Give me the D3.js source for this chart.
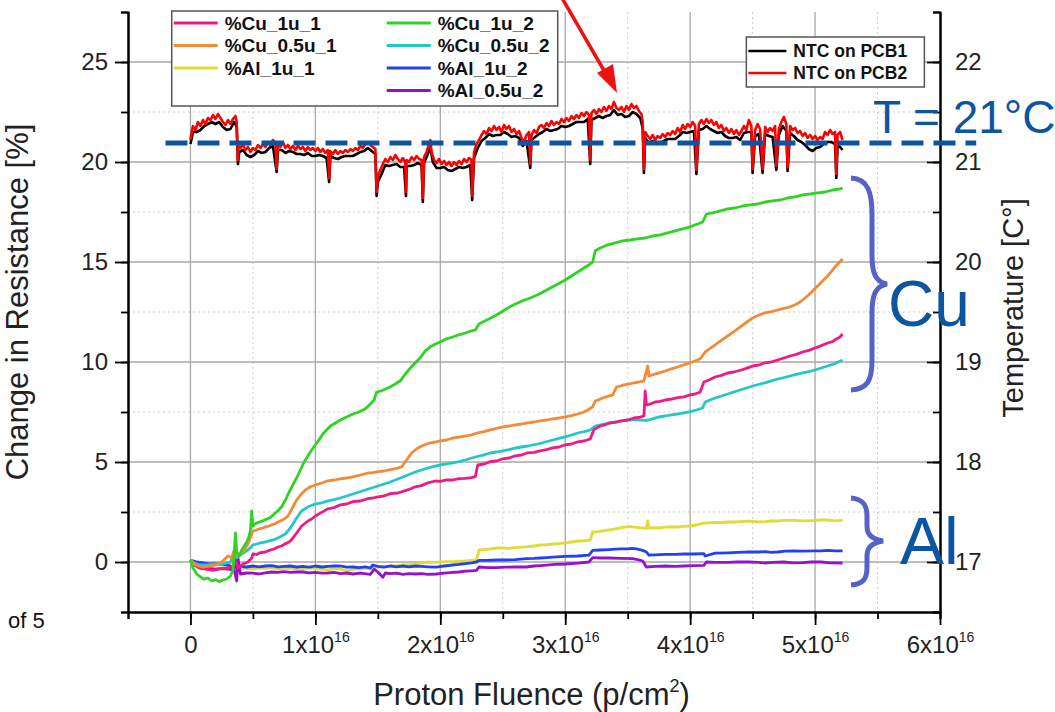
<!DOCTYPE html>
<html>
<head>
<meta charset="utf-8">
<script src="https://cdn.jsdelivr.net/npm/d3@7"></script>
<style>
  body { margin: 0; background: #fff; }
  svg { display: block; }
  text { font-family: "Liberation Sans", Arial, sans-serif; }
</style>
</head>
<body>
<div id="chart"></div>
<script>
// fluence values are in units of 1e16 p/cm^2
const xTicks = [0, 1, 2, 3, 4, 5, 6];
const yTicks = [0, 5, 10, 15, 20, 25];
const tTicks = [17, 18, 19, 20, 21, 22];

const seriesNames = ["%Cu_1u_1", "%Cu_0.5u_1", "%Al_1u_1", "%Cu_1u_2", "%Cu_0.5u_2", "%Al_1u_2", "%Al_0.5u_2"];
const seriesColors = ["#ee1a85", "#f58a35", "#dedc35", "#2ed423", "#22c8c8", "#2340f2", "#9412cc"];
const ntcNames = ["NTC on PCB1", "NTC on PCB2"];
const ntcColors = ["#000000", "#ff0000"];

const cu1u1 = [[0,0.1],[0.03,-0.15],[0.07,-0.3],[0.12,-0.35],[0.18,-0.42],[0.24,-0.33],[0.3,-0.3],[0.34,-0.2],[0.36,0.1],[0.38,-0.3],[0.42,-0.1],[0.46,0.0],[0.49,0.2],[0.5,0.4],[0.53,0.38],[0.56,0.47],[0.6,0.5],[0.63,0.58],[0.67,0.65],[0.7,0.75],[0.73,0.8],[0.76,0.92],[0.79,1.0],[0.81,1.12],[0.85,1.45],[0.89,1.8],[0.94,2.05],[0.97,2.15],[1.0,2.3],[1.05,2.48],[1.1,2.66],[1.15,2.72],[1.2,2.86],[1.25,2.9],[1.3,3.02],[1.36,3.05],[1.42,3.17],[1.46,3.2],[1.5,3.26],[1.55,3.3],[1.6,3.42],[1.66,3.45],[1.72,3.57],[1.76,3.65],[1.8,3.76],[1.85,3.82],[1.9,3.96],[1.96,4.05],[2.0,4.03],[2.05,4.11],[2.1,4.1],[2.15,4.17],[2.2,4.18],[2.25,4.22],[2.28,4.27],[2.3,4.85],[2.35,4.9],[2.4,5.02],[2.45,5.05],[2.5,5.16],[2.55,5.2],[2.6,5.31],[2.65,5.35],[2.7,5.46],[2.75,5.48],[2.8,5.56],[2.85,5.62],[2.9,5.71],[2.95,5.75],[3.0,5.86],[3.05,5.9],[3.1,6.01],[3.15,6.05],[3.2,6.15],[3.23,6.62],[3.28,6.8],[3.32,6.86],[3.36,6.96],[3.4,6.98],[3.45,7.06],[3.5,7.1],[3.55,7.2],[3.6,7.24],[3.63,7.3],[3.64,8.55],[3.65,7.85],[3.68,7.9],[3.72,8.0],[3.76,8.03],[3.8,8.1],[3.85,8.14],[3.9,8.22],[3.95,8.26],[4.0,8.36],[4.04,8.4],[4.08,8.5],[4.11,9.0],[4.15,9.1],[4.2,9.25],[4.25,9.33],[4.3,9.45],[4.35,9.5],[4.41,9.6],[4.45,9.68],[4.5,9.8],[4.55,9.85],[4.6,9.96],[4.65,10.0],[4.7,10.1],[4.75,10.2],[4.8,10.3],[4.85,10.38],[4.9,10.5],[4.95,10.58],[5.0,10.7],[5.05,10.82],[5.1,10.95],[5.14,11.02],[5.17,11.15],[5.2,11.25],[5.22,11.4]];

const cu05u1 = [[0,0.1],[0.03,-0.1],[0.06,-0.2],[0.1,-0.25],[0.15,-0.2],[0.2,-0.15],[0.25,0.0],[0.3,0.3],[0.33,0.2],[0.36,0.8],[0.38,0.3],[0.42,0.5],[0.46,0.9],[0.49,1.4],[0.5,1.55],[0.53,1.6],[0.55,1.66],[0.58,1.7],[0.6,1.76],[0.63,1.8],[0.65,1.86],[0.68,1.92],[0.7,2.0],[0.73,2.08],[0.75,2.15],[0.78,2.3],[0.8,2.5],[0.84,3.0],[0.88,3.35],[0.92,3.6],[0.96,3.76],[1.0,3.85],[1.05,3.95],[1.1,4.06],[1.15,4.1],[1.2,4.16],[1.25,4.2],[1.3,4.26],[1.36,4.35],[1.42,4.45],[1.46,4.47],[1.5,4.52],[1.55,4.55],[1.6,4.62],[1.65,4.68],[1.69,4.76],[1.73,5.1],[1.77,5.45],[1.82,5.7],[1.87,5.85],[1.92,5.96],[1.96,6.0],[2.0,6.06],[2.05,6.1],[2.1,6.2],[2.15,6.24],[2.2,6.3],[2.25,6.36],[2.3,6.46],[2.35,6.52],[2.4,6.61],[2.45,6.68],[2.5,6.76],[2.55,6.8],[2.6,6.86],[2.65,6.9],[2.7,6.96],[2.75,7.0],[2.8,7.06],[2.85,7.1],[2.9,7.16],[2.95,7.2],[3.0,7.26],[3.05,7.32],[3.1,7.4],[3.15,7.5],[3.18,7.6],[3.22,7.76],[3.24,8.05],[3.27,8.12],[3.3,8.2],[3.34,8.28],[3.38,8.36],[3.41,8.75],[3.44,8.8],[3.47,8.86],[3.51,8.9],[3.55,8.96],[3.59,9.0],[3.63,9.06],[3.66,9.8],[3.67,9.3],[3.71,9.38],[3.75,9.46],[3.8,9.55],[3.85,9.66],[3.9,9.75],[3.95,9.86],[4.0,9.96],[4.04,10.05],[4.08,10.16],[4.12,10.5],[4.16,10.68],[4.2,10.86],[4.25,11.08],[4.3,11.3],[4.35,11.52],[4.4,11.75],[4.45,11.98],[4.5,12.2],[4.55,12.35],[4.6,12.46],[4.65,12.52],[4.7,12.6],[4.75,12.68],[4.8,12.76],[4.84,12.86],[4.87,12.96],[4.91,13.15],[4.95,13.36],[4.98,13.55],[5.02,13.8],[5.06,14.05],[5.1,14.3],[5.13,14.52],[5.16,14.76],[5.19,14.95],[5.22,15.15]];

const al1u1 = [[0,0.1],[0.05,-0.2],[0.1,-0.3],[0.15,-0.28],[0.2,-0.36],[0.25,-0.3],[0.3,-0.32],[0.35,0.3],[0.37,-0.5],[0.4,-0.35],[0.45,-0.32],[0.5,-0.36],[0.55,-0.3],[0.6,-0.32],[0.65,-0.28],[0.7,-0.36],[0.75,-0.32],[0.8,-0.3],[0.85,-0.34],[0.9,-0.36],[0.95,-0.3],[1.0,-0.32],[1.05,-0.36],[1.1,-0.4],[1.15,-0.33],[1.2,-0.36],[1.26,-0.44],[1.3,-0.36],[1.35,-0.36],[1.4,-0.3],[1.44,-0.34],[1.5,-0.25],[1.55,-0.24],[1.6,-0.2],[1.65,-0.18],[1.7,-0.14],[1.75,-0.13],[1.8,-0.1],[1.85,-0.04],[1.9,0.0],[1.95,-0.02],[2.0,0.0],[2.05,0.02],[2.1,0.02],[2.15,0.04],[2.2,0.05],[2.25,0.08],[2.29,0.1],[2.31,0.6],[2.35,0.62],[2.4,0.65],[2.45,0.7],[2.5,0.7],[2.55,0.68],[2.6,0.72],[2.65,0.74],[2.69,0.76],[2.75,0.8],[2.8,0.85],[2.85,0.86],[2.9,0.9],[2.95,0.92],[3.0,0.96],[3.05,1.0],[3.1,1.05],[3.15,1.06],[3.2,1.1],[3.22,1.5],[3.26,1.52],[3.3,1.56],[3.35,1.6],[3.4,1.66],[3.45,1.72],[3.51,1.78],[3.55,1.74],[3.6,1.72],[3.65,1.68],[3.66,2.05],[3.67,1.7],[3.71,1.72],[3.75,1.7],[3.8,1.74],[3.85,1.76],[3.9,1.75],[3.94,1.78],[4.0,1.8],[4.05,1.85],[4.11,1.95],[4.15,1.96],[4.2,1.98],[4.25,1.97],[4.3,2.0],[4.35,2.0],[4.4,2.02],[4.47,2.04],[4.55,2.0],[4.6,2.02],[4.65,2.05],[4.7,2.05],[4.75,2.08],[4.83,2.08],[4.9,2.06],[4.95,2.06],[5.0,2.08],[5.05,2.1],[5.1,2.1],[5.15,2.06],[5.22,2.08]];

const cu1u2 = [[0,0.1],[0.02,-0.3],[0.05,-0.6],[0.08,-0.75],[0.11,-0.86],[0.14,-0.8],[0.17,-0.95],[0.2,-0.88],[0.23,-0.98],[0.26,-0.9],[0.29,-0.85],[0.32,-0.7],[0.34,-0.4],[0.35,0.4],[0.36,1.45],[0.37,0.5],[0.39,0.3],[0.41,0.6],[0.43,0.8],[0.45,1.0],[0.47,1.3],[0.48,1.6],[0.49,2.55],[0.5,1.8],[0.52,1.92],[0.55,2.0],[0.58,2.06],[0.61,2.15],[0.64,2.22],[0.67,2.4],[0.7,2.56],[0.73,2.76],[0.76,3.1],[0.79,3.5],[0.82,3.86],[0.85,4.2],[0.88,4.6],[0.91,5.0],[0.94,5.3],[0.97,5.6],[1.0,5.86],[1.03,6.12],[1.06,6.4],[1.09,6.6],[1.12,6.8],[1.16,6.95],[1.2,7.1],[1.25,7.25],[1.3,7.4],[1.35,7.5],[1.4,7.66],[1.44,7.9],[1.47,8.1],[1.49,8.5],[1.53,8.56],[1.58,8.7],[1.63,8.86],[1.68,9.06],[1.72,9.4],[1.76,9.7],[1.8,9.96],[1.84,10.22],[1.88,10.56],[1.92,10.76],[1.96,10.9],[2.0,11.0],[2.05,11.16],[2.1,11.25],[2.15,11.36],[2.2,11.45],[2.25,11.56],[2.28,11.6],[2.31,11.9],[2.36,12.06],[2.42,12.25],[2.48,12.46],[2.54,12.7],[2.6,12.9],[2.66,13.06],[2.72,13.2],[2.78,13.36],[2.84,13.56],[2.9,13.76],[2.96,13.96],[3.0,14.1],[3.05,14.3],[3.1,14.5],[3.15,14.7],[3.2,14.9],[3.22,15.0],[3.24,15.56],[3.28,15.7],[3.34,15.86],[3.4,15.96],[3.46,16.06],[3.52,16.1],[3.58,16.16],[3.64,16.2],[3.7,16.3],[3.76,16.36],[3.82,16.46],[3.88,16.56],[3.94,16.66],[4.0,16.76],[4.06,16.9],[4.1,17.0],[4.13,17.4],[4.18,17.46],[4.24,17.56],[4.3,17.66],[4.36,17.7],[4.42,17.8],[4.48,17.86],[4.54,17.9],[4.6,18.0],[4.66,18.06],[4.72,18.1],[4.78,18.2],[4.84,18.26],[4.9,18.36],[4.96,18.4],[5.02,18.46],[5.08,18.5],[5.14,18.6],[5.2,18.66],[5.22,18.7]];

const cu05u2 = [[0,0.1],[0.03,-0.05],[0.08,-0.15],[0.14,-0.15],[0.2,-0.1],[0.26,-0.1],[0.32,0.0],[0.35,0.5],[0.37,0.2],[0.41,0.4],[0.46,0.6],[0.5,0.85],[0.53,0.9],[0.56,0.96],[0.6,1.0],[0.63,1.06],[0.67,1.12],[0.7,1.2],[0.73,1.3],[0.76,1.4],[0.8,1.7],[0.85,2.2],[0.89,2.55],[0.94,2.76],[1.0,2.9],[1.05,2.96],[1.1,3.06],[1.15,3.12],[1.2,3.2],[1.25,3.3],[1.3,3.4],[1.35,3.5],[1.4,3.6],[1.45,3.7],[1.5,3.8],[1.55,3.9],[1.6,4.0],[1.66,4.15],[1.72,4.3],[1.76,4.4],[1.8,4.5],[1.85,4.6],[1.9,4.7],[1.95,4.78],[2.0,4.86],[2.05,4.9],[2.1,4.96],[2.15,5.02],[2.2,5.1],[2.25,5.2],[2.31,5.3],[2.35,5.36],[2.4,5.45],[2.45,5.5],[2.5,5.56],[2.55,5.62],[2.6,5.7],[2.65,5.75],[2.7,5.8],[2.74,5.85],[2.78,5.9],[2.84,6.0],[2.9,6.1],[2.95,6.18],[3.0,6.26],[3.05,6.35],[3.1,6.45],[3.15,6.52],[3.2,6.6],[3.24,6.8],[3.3,6.88],[3.35,6.95],[3.4,7.0],[3.45,7.06],[3.52,7.1],[3.56,7.12],[3.6,7.1],[3.64,7.08],[3.67,7.1],[3.71,7.18],[3.75,7.25],[3.8,7.3],[3.85,7.36],[3.9,7.4],[3.95,7.46],[4.0,7.52],[4.05,7.6],[4.1,7.7],[4.12,8.0],[4.16,8.1],[4.2,8.2],[4.25,8.3],[4.3,8.4],[4.35,8.5],[4.4,8.6],[4.45,8.7],[4.5,8.8],[4.56,8.9],[4.6,8.96],[4.65,9.06],[4.7,9.15],[4.75,9.22],[4.8,9.3],[4.85,9.38],[4.9,9.46],[4.95,9.52],[5.0,9.6],[5.05,9.7],[5.1,9.8],[5.15,9.9],[5.22,10.1]];

const al1u2 = [[0,0.1],[0.05,0.0],[0.1,-0.05],[0.15,-0.1],[0.2,-0.08],[0.25,-0.12],[0.3,-0.15],[0.35,-0.3],[0.37,-0.15],[0.41,-0.22],[0.45,-0.25],[0.5,-0.2],[0.55,-0.24],[0.6,-0.2],[0.65,-0.18],[0.7,-0.24],[0.75,-0.22],[0.8,-0.2],[0.85,-0.25],[0.9,-0.22],[0.95,-0.26],[1.0,-0.2],[1.05,-0.25],[1.1,-0.22],[1.15,-0.2],[1.2,-0.2],[1.25,-0.26],[1.3,-0.25],[1.35,-0.28],[1.4,-0.24],[1.44,-0.3],[1.46,-0.15],[1.5,-0.22],[1.55,-0.26],[1.6,-0.2],[1.65,-0.24],[1.7,-0.2],[1.75,-0.24],[1.8,-0.2],[1.85,-0.22],[1.9,-0.24],[1.97,-0.26],[2.03,-0.2],[2.1,-0.15],[2.15,-0.12],[2.2,-0.08],[2.25,-0.04],[2.29,0.0],[2.31,0.08],[2.38,0.08],[2.45,0.1],[2.52,0.1],[2.6,0.12],[2.69,0.17],[2.75,0.18],[2.8,0.2],[2.85,0.22],[2.9,0.24],[3.0,0.28],[3.1,0.3],[3.19,0.34],[3.22,0.58],[3.28,0.6],[3.35,0.62],[3.4,0.64],[3.45,0.66],[3.5,0.66],[3.54,0.68],[3.58,0.64],[3.62,0.58],[3.65,0.5],[3.67,0.34],[3.72,0.36],[3.8,0.38],[3.88,0.38],[3.95,0.4],[4.03,0.4],[4.11,0.42],[4.12,0.3],[4.2,0.44],[4.3,0.46],[4.38,0.48],[4.47,0.5],[4.55,0.5],[4.6,0.52],[4.65,0.48],[4.7,0.5],[4.76,0.54],[4.83,0.56],[4.9,0.54],[5.0,0.56],[5.05,0.56],[5.1,0.58],[5.16,0.56],[5.22,0.56]];

const al05u2 = [[0,0.1],[0.04,-0.15],[0.1,-0.3],[0.15,-0.33],[0.2,-0.36],[0.25,-0.33],[0.3,-0.36],[0.35,-0.4],[0.37,-0.95],[0.38,0.2],[0.4,-0.6],[0.45,-0.55],[0.5,-0.56],[0.55,-0.6],[0.6,-0.54],[0.65,-0.5],[0.7,-0.52],[0.75,-0.48],[0.8,-0.52],[0.85,-0.5],[0.9,-0.5],[0.95,-0.54],[1.0,-0.52],[1.05,-0.56],[1.1,-0.55],[1.15,-0.52],[1.2,-0.58],[1.25,-0.55],[1.3,-0.6],[1.36,-0.56],[1.44,-0.62],[1.47,-0.36],[1.5,-0.5],[1.54,-0.76],[1.56,-0.55],[1.6,-0.58],[1.65,-0.56],[1.7,-0.62],[1.75,-0.58],[1.8,-0.6],[1.85,-0.58],[1.9,-0.62],[1.97,-0.6],[2.03,-0.56],[2.1,-0.52],[2.15,-0.5],[2.2,-0.46],[2.25,-0.44],[2.29,-0.42],[2.31,-0.25],[2.38,-0.28],[2.45,-0.28],[2.52,-0.26],[2.6,-0.25],[2.69,-0.25],[2.75,-0.2],[2.8,-0.18],[2.85,-0.16],[2.92,-0.12],[3.0,-0.1],[3.1,-0.06],[3.19,0.0],[3.22,0.22],[3.28,0.2],[3.35,0.2],[3.45,0.18],[3.54,0.17],[3.58,0.12],[3.62,0.05],[3.65,-0.25],[3.72,-0.22],[3.8,-0.2],[3.88,-0.22],[3.95,-0.2],[4.03,-0.18],[4.11,-0.17],[4.13,0.0],[4.2,-0.02],[4.3,-0.02],[4.38,0.0],[4.47,0.0],[4.55,-0.02],[4.6,-0.05],[4.66,-0.02],[4.75,0.0],[4.82,-0.04],[4.9,-0.03],[4.97,0.0],[5.05,0.0],[5.12,-0.04],[5.22,-0.05]];

// temperature on the right axis, degrees C
const ntcPcb2 = [[0,21.22],[0.01,21.30],[0.02,21.36],[0.04,21.32],[0.06,21.40],[0.08,21.36],[0.10,21.42],[0.12,21.38],[0.14,21.44],[0.16,21.42],[0.18,21.47],[0.20,21.43],[0.22,21.48],[0.24,21.44],[0.26,21.40],[0.28,21.37],[0.30,21.42],[0.32,21.38],[0.34,21.43],[0.36,21.46],[0.37,21.40],[0.38,21.02],[0.385,21.16],[0.40,21.14],[0.42,21.18],[0.44,21.12],[0.46,21.15],[0.48,21.10],[0.50,21.14],[0.52,21.12],[0.54,21.17],[0.56,21.14],[0.58,21.18],[0.60,21.15],[0.62,21.20],[0.64,21.17],[0.66,21.22],[0.68,21.19],[0.69,20.93],[0.70,21.18],[0.72,21.15],[0.74,21.20],[0.76,21.14],[0.78,21.17],[0.80,21.13],[0.82,21.16],[0.84,21.12],[0.86,21.16],[0.88,21.13],[0.90,21.15],[0.92,21.11],[0.94,21.15],[0.96,21.12],[0.98,21.14],[1.00,21.11],[1.02,21.14],[1.04,21.10],[1.06,21.13],[1.08,21.09],[1.10,21.12],[1.11,20.84],[1.12,21.11],[1.14,21.08],[1.16,21.12],[1.18,21.08],[1.20,21.11],[1.22,21.09],[1.24,21.12],[1.26,21.10],[1.28,21.13],[1.30,21.11],[1.32,21.14],[1.34,21.12],[1.36,21.16],[1.38,21.14],[1.40,21.18],[1.42,21.20],[1.44,21.17],[1.46,21.15],[1.48,21.13],[1.49,20.70],[1.50,20.86],[1.52,20.92],[1.54,20.98],[1.56,21.03],[1.58,21.00],[1.60,21.05],[1.62,21.02],[1.64,21.07],[1.66,21.03],[1.68,21.00],[1.70,21.04],[1.72,20.99],[1.725,20.70],[1.73,21.02],[1.75,21.00],[1.77,21.05],[1.79,21.02],[1.81,21.06],[1.83,21.03],[1.85,21.02],[1.86,20.64],[1.87,21.05],[1.89,21.10],[1.91,21.18],[1.92,21.22],[1.93,21.10],[1.95,21.02],[1.97,20.99],[1.99,21.03],[2.01,20.98],[2.03,21.01],[2.05,20.97],[2.07,21.00],[2.09,20.96],[2.11,21.00],[2.13,20.97],[2.15,21.01],[2.17,20.98],[2.19,21.03],[2.21,21.00],[2.23,21.04],[2.25,21.02],[2.255,20.66],[2.27,21.10],[2.29,21.18],[2.31,21.22],[2.33,21.27],[2.35,21.31],[2.37,21.28],[2.39,21.34],[2.41,21.31],[2.43,21.36],[2.45,21.32],[2.47,21.35],[2.49,21.30],[2.51,21.37],[2.53,21.33],[2.55,21.36],[2.57,21.30],[2.59,21.33],[2.61,21.28],[2.63,21.31],[2.65,21.24],[2.67,21.20],[2.69,21.27],[2.71,21.30],[2.72,20.98],[2.73,21.27],[2.75,21.32],[2.77,21.29],[2.79,21.35],[2.81,21.37],[2.83,21.34],[2.85,21.39],[2.87,21.36],[2.89,21.41],[2.91,21.37],[2.93,21.40],[2.95,21.38],[2.97,21.43],[2.99,21.40],[3.01,21.44],[3.03,21.41],[3.05,21.46],[3.07,21.43],[3.09,21.47],[3.11,21.44],[3.13,21.49],[3.15,21.46],[3.17,21.50],[3.19,21.47],[3.20,21.02],[3.21,21.49],[3.23,21.52],[3.25,21.48],[3.27,21.53],[3.29,21.50],[3.31,21.55],[3.33,21.51],[3.35,21.56],[3.37,21.53],[3.39,21.60],[3.41,21.54],[3.43,21.52],[3.45,21.55],[3.47,21.50],[3.49,21.56],[3.51,21.52],[3.53,21.58],[3.55,21.54],[3.57,21.56],[3.59,21.51],[3.61,21.48],[3.62,21.40],[3.63,20.93],[3.64,21.30],[3.66,21.26],[3.68,21.23],[3.70,21.27],[3.72,21.22],[3.74,21.26],[3.76,21.24],[3.78,21.28],[3.80,21.25],[3.82,21.29],[3.84,21.27],[3.86,21.31],[3.88,21.28],[3.90,21.34],[3.92,21.30],[3.94,21.37],[3.96,21.33],[3.98,21.38],[4.00,21.35],[4.02,21.40],[4.04,21.36],[4.05,20.92],[4.07,21.38],[4.09,21.42],[4.11,21.38],[4.13,21.43],[4.15,21.39],[4.17,21.42],[4.19,21.37],[4.21,21.40],[4.23,21.34],[4.25,21.37],[4.27,21.31],[4.29,21.34],[4.31,21.29],[4.33,21.33],[4.35,21.28],[4.37,21.32],[4.39,21.27],[4.41,21.31],[4.43,21.36],[4.45,21.32],[4.47,21.42],[4.49,21.36],[4.50,20.93],[4.52,21.32],[4.54,21.38],[4.56,21.33],[4.58,20.93],[4.60,21.35],[4.62,21.30],[4.64,21.34],[4.66,21.31],[4.68,21.36],[4.69,20.96],[4.71,21.33],[4.73,21.40],[4.75,21.45],[4.77,21.38],[4.78,20.95],[4.80,21.36],[4.82,21.32],[4.84,21.34],[4.86,21.29],[4.88,21.31],[4.90,21.26],[4.92,21.29],[4.94,21.24],[4.96,21.27],[4.98,21.23],[5.00,21.26],[5.02,21.22],[5.04,21.25],[5.06,21.23],[5.08,21.30],[5.10,21.27],[5.12,21.32],[5.14,21.28],[5.16,21.30],[5.17,20.88],[5.18,21.27],[5.20,21.30],[5.22,21.22]];

const ntcPcb1 = [[0,21.18],[0.02,21.30],[0.05,21.30],[0.08,21.32],[0.11,21.36],[0.14,21.38],[0.17,21.40],[0.2,21.38],[0.23,21.40],[0.26,21.35],[0.29,21.32],[0.32,21.33],[0.35,21.40],[0.37,21.35],[0.38,20.98],[0.39,21.10],[0.42,21.12],[0.45,21.07],[0.48,21.05],[0.51,21.07],[0.54,21.11],[0.57,21.09],[0.60,21.10],[0.63,21.14],[0.66,21.16],[0.69,20.90],[0.70,21.12],[0.73,21.12],[0.76,21.09],[0.79,21.11],[0.82,21.10],[0.85,21.08],[0.88,21.08],[0.91,21.07],[0.94,21.09],[0.97,21.06],[1.0,21.06],[1.03,21.07],[1.06,21.06],[1.09,21.04],[1.11,20.80],[1.12,21.06],[1.15,21.04],[1.18,21.03],[1.21,21.05],[1.24,21.06],[1.27,21.06],[1.3,21.06],[1.33,21.08],[1.36,21.10],[1.39,21.11],[1.42,21.14],[1.45,21.11],[1.48,21.08],[1.49,20.66],[1.5,20.80],[1.53,20.88],[1.56,20.97],[1.59,20.96],[1.62,20.97],[1.65,20.98],[1.68,20.95],[1.71,20.95],[1.725,20.66],[1.73,20.96],[1.76,20.96],[1.79,20.97],[1.82,20.99],[1.85,20.97],[1.86,20.60],[1.87,20.99],[1.9,21.08],[1.92,21.15],[1.94,21.00],[1.97,20.94],[2.0,20.94],[2.03,20.95],[2.06,20.92],[2.09,20.91],[2.12,20.93],[2.15,20.95],[2.18,20.94],[2.21,20.95],[2.24,20.97],[2.255,20.62],[2.27,21.04],[2.3,21.14],[2.33,21.21],[2.36,21.24],[2.39,21.28],[2.42,21.26],[2.45,21.27],[2.48,21.27],[2.51,21.30],[2.54,21.28],[2.57,21.25],[2.6,21.26],[2.63,21.24],[2.66,21.16],[2.69,21.21],[2.72,20.94],[2.73,21.22],[2.76,21.25],[2.79,21.28],[2.82,21.30],[2.85,21.33],[2.88,21.31],[2.91,21.32],[2.94,21.33],[2.97,21.36],[3.0,21.35],[3.03,21.36],[3.06,21.38],[3.09,21.40],[3.12,21.40],[3.15,21.40],[3.18,21.43],[3.2,20.98],[3.21,21.42],[3.24,21.44],[3.27,21.46],[3.3,21.44],[3.33,21.46],[3.36,21.47],[3.39,21.52],[3.42,21.47],[3.45,21.48],[3.48,21.45],[3.51,21.46],[3.54,21.50],[3.57,21.48],[3.6,21.44],[3.62,21.34],[3.63,20.89],[3.64,21.24],[3.67,21.19],[3.7,21.21],[3.73,21.18],[3.76,21.19],[3.79,21.21],[3.82,21.23],[3.85,21.23],[3.88,21.23],[3.91,21.26],[3.94,21.30],[3.97,21.29],[4.0,21.30],[4.03,21.31],[4.05,20.88],[4.07,21.32],[4.1,21.33],[4.13,21.36],[4.16,21.33],[4.19,21.31],[4.22,21.29],[4.25,21.30],[4.28,21.26],[4.31,21.24],[4.34,21.24],[4.37,21.25],[4.4,21.22],[4.43,21.29],[4.46,21.30],[4.49,21.30],[4.5,20.89],[4.52,21.26],[4.55,21.28],[4.58,20.89],[4.6,21.28],[4.63,21.26],[4.66,21.25],[4.69,20.92],[4.71,21.27],[4.74,21.36],[4.77,21.31],[4.78,20.91],[4.8,21.29],[4.83,21.26],[4.86,21.22],[4.89,21.20],[4.92,21.17],[4.95,21.13],[4.98,21.11],[5.01,21.14],[5.04,21.15],[5.07,21.18],[5.1,21.20],[5.13,21.20],[5.16,21.18],[5.17,20.84],[5.18,21.16],[5.2,21.15],[5.22,21.12]];

// order matches seriesNames
const seriesData = [cu1u1, cu05u1, al1u1, cu1u2, cu05u2, al1u2, al05u2];
const drawOrder = [2, 5, 6, 4, 0, 1, 3];

const W = 1055, H = 712;
const margin = {top: 12, right: 115, bottom: 100, left: 128};
const width = W - margin.left - margin.right;
const height = H - margin.top - margin.bottom;

const svgRoot = d3.select("#chart").append("svg")
  .attr("width", W).attr("height", H);
const svg = svgRoot.append("g")
  .attr("transform", `translate(${margin.left},${margin.top})`);

const x = d3.scaleLinear().domain([-0.5, 6]).range([0, width]);
const y = d3.scaleLinear().domain([-2.5, 27.5]).range([height, 0]);
const yT = d3.scaleLinear().domain([16.5, 22.5]).range([height, 0]);

// grid
const xMinor = d3.range(0.5, 6, 1);
const yMinor = d3.range(2.5, 27.5, 5);
const grid = svg.append("g");
grid.selectAll(".vmin").data(xMinor).join("line")
  .attr("x1", d => x(d)).attr("x2", d => x(d)).attr("y1", 0).attr("y2", height)
  .attr("stroke", "#cfcfcf").attr("stroke-width", 1).attr("stroke-dasharray", "2,3");
grid.selectAll(".hmin").data(yMinor).join("line")
  .attr("x1", 0).attr("x2", width).attr("y1", d => y(d)).attr("y2", d => y(d))
  .attr("stroke", "#cfcfcf").attr("stroke-width", 1).attr("stroke-dasharray", "2,3");
grid.selectAll(".vmaj").data(xTicks.slice(0, 6)).join("line")
  .attr("x1", d => x(d)).attr("x2", d => x(d)).attr("y1", 0).attr("y2", height)
  .attr("stroke", "#a9a9a9").attr("stroke-width", 1.3);
grid.selectAll(".hmaj").data(yTicks).join("line")
  .attr("x1", 0).attr("x2", width).attr("y1", d => y(d)).attr("y2", d => y(d))
  .attr("stroke", "#a9a9a9").attr("stroke-width", 1.3);

// resistance lines
const line = d3.line().x(d => x(d[0])).y(d => y(d[1]));
svg.append("g").selectAll("path")
  .data(drawOrder)
  .join("path")
    .attr("d", i => line(seriesData[i]))
    .attr("fill", "none")
    .attr("stroke", i => seriesColors[i])
    .attr("stroke-width", 2.8)
    .attr("stroke-linejoin", "round");

// temperature lines
const lineT = d3.line().x(d => x(d[0])).y(d => yT(d[1]));
svg.append("g").selectAll("path")
  .data([ntcPcb1, ntcPcb2])
  .join("path")
    .attr("d", d => lineT(d))
    .attr("fill", "none")
    .attr("stroke", (d, i) => ntcColors[i])
    .attr("stroke-width", 2.6)
    .attr("stroke-linejoin", "round");

// axes
function styleAxis(g) {
  g.select(".domain").attr("stroke", "#000").attr("stroke-width", 2);
  g.selectAll(".tick line").attr("stroke", "#000").attr("stroke-width", 1.8);
  g.selectAll(".tick text").attr("fill", "#222");
}

const leftMinor = svg.append("g")
  .call(d3.axisLeft(y).tickValues(d3.range(-2.5, 28, 2.5)).tickSize(7).tickFormat(""));
styleAxis(leftMinor);
const leftAxis = svg.append("g")
  .call(d3.axisLeft(y).tickValues(yTicks).tickSize(13).tickPadding(7).tickSizeOuter(0));
styleAxis(leftAxis);
leftAxis.selectAll(".tick text").attr("font-size", 24);

const bottomMinor = svg.append("g")
  .attr("transform", `translate(0,${height})`)
  .call(d3.axisBottom(x).tickValues(d3.range(-0.5, 6.1, 0.5)).tickSize(7).tickFormat(""));
styleAxis(bottomMinor);
const bottomAxis = svg.append("g")
  .attr("transform", `translate(0,${height})`)
  .call(d3.axisBottom(x).tickValues(xTicks).tickSize(13).tickPadding(11).tickSizeOuter(0));
styleAxis(bottomAxis);
bottomAxis.selectAll(".tick text").each(function(d) {
  const t = d3.select(this).attr("font-size", 24).text(null);
  if (d === 0) { t.text("0"); return; }
  t.append("tspan").text(d + "x10");
  t.append("tspan").attr("dy", -11).attr("font-size", 14).text("16");
});

const rightMinor = svg.append("g")
  .attr("transform", `translate(${width},0)`)
  .call(d3.axisRight(yT).tickValues(d3.range(16.5, 22.6, 0.5)).tickSize(-7).tickFormat(""));
styleAxis(rightMinor);
const rightAxis = svg.append("g")
  .attr("transform", `translate(${width},0)`)
  .call(d3.axisRight(yT).tickValues(tTicks).tickSize(-13).tickPadding(15)
    .tickSizeOuter(0).tickFormat(d3.format("d")));
styleAxis(rightAxis);
rightAxis.selectAll(".tick text").attr("font-size", 24);

// axis titles
svg.append("text")
  .attr("transform", `translate(${-100},${height / 2 - 10}) rotate(-90)`)
  .attr("text-anchor", "middle").attr("font-size", 31).attr("fill", "#222")
  .text("Change in Resistance [%]");
svg.append("text")
  .attr("transform", `translate(${width + 83},${height / 2 - 4}) rotate(-90)`)
  .attr("text-anchor", "middle").attr("font-size", 29).attr("fill", "#222")
  .text("Temperature [C°]");
const xt = svg.append("text")
  .attr("x", x(2.73)).attr("y", height + 93)
  .attr("text-anchor", "middle").attr("font-size", 31).attr("fill", "#222");
xt.append("tspan").text("Proton Fluence (p/cm");
xt.append("tspan").attr("dy", -13).attr("font-size", 18).text("2");
xt.append("tspan").attr("dy", 13).text(")");

// legend for resistance series
const leg = svg.append("g").attr("transform", `translate(${x(-0.15)},${-1})`);
leg.append("rect").attr("width", 386).attr("height", 95)
  .attr("fill", "#fff").attr("stroke", "#555").attr("stroke-width", 1.5);
const legItems = seriesNames.map((n, i) => ({name: n, color: seriesColors[i], col: i < 3 ? 0 : 1, row: i < 3 ? i : i - 3}));
const li = leg.selectAll("g.item").data(legItems).join("g")
  .attr("transform", d => `translate(${d.col ? 215 : 2},${12 + d.row * 22.5})`);
li.append("line").attr("x1", 0).attr("x2", 44).attr("stroke", d => d.color).attr("stroke-width", 3);
li.append("text").attr("x", 51).attr("dy", "0.36em").attr("font-size", 19).attr("font-weight", "bold")
  .attr("fill", "#111").text(d => d.name);

// legend for temperature
const leg2 = svg.append("g").attr("transform", `translate(${x(4.45)},${25})`);
leg2.append("rect").attr("width", 178).attr("height", 50)
  .attr("fill", "#fff").attr("stroke", "#555").attr("stroke-width", 1.5);
const li2 = leg2.selectAll("g.item").data(ntcNames).join("g")
  .attr("transform", (d, i) => `translate(2,${14 + i * 22})`);
li2.append("line").attr("x1", 0).attr("x2", 38).attr("stroke", (d, i) => ntcColors[i]).attr("stroke-width", 2.5);
li2.append("text").attr("x", 45).attr("dy", "0.36em").attr("font-size", 17.5).attr("font-weight", "bold")
  .attr("fill", "#111").text(d => d);

// annotations
const ann = svgRoot.append("g");
const blue = "#0b55a1";
const braceBlue = "#5563c9";
ann.append("line")
  .attr("x1", margin.left + x(-0.2)).attr("x2", margin.left + x(6.29))
  .attr("y1", margin.top + yT(21.19)).attr("y2", margin.top + yT(21.19))
  .attr("stroke", blue).attr("stroke-width", 5).attr("stroke-dasharray", "22,10");
ann.append("text").attr("x", 873).attr("y", 133)
  .attr("font-family", "Lato, 'Open Sans', sans-serif").attr("font-weight", 300)
  .attr("font-size", 46).attr("fill", blue).text("T = 21°C");
ann.append("text").attr("x", 888).attr("y", 326)
  .attr("font-family", "Lato, 'Open Sans', sans-serif").attr("font-weight", 400)
  .attr("font-size", 64).attr("fill", blue).text("Cu");
ann.append("text").attr("x", 900).attr("y", 564)
  .attr("font-family", "Lato, 'Open Sans', sans-serif").attr("font-weight", 400)
  .attr("font-size", 66).attr("fill", blue).text("Al");

ann.append("path")
  .attr("d", "M851,178 C868,179 872,192 872,215 L872,255 C872,274 876,282 887,284 C876,286 872,294 872,313 L872,360 C872,380 868,389 851,390")
  .attr("fill", "none").attr("stroke", braceBlue).attr("stroke-width", 5);
ann.append("path")
  .attr("d", "M851,498 C863,499 867,505 867,516 L867,526 C867,535 872,539 883,541 C872,543 867,547 867,556 L867,568 C867,579 863,584 851,585")
  .attr("fill", "none").attr("stroke", braceBlue).attr("stroke-width", 5);

// red arrow pointing at the temperature peak
ann.append("line").attr("x1", 562).attr("y1", -2).attr("x2", 606).attr("y2", 74)
  .attr("stroke", "#f01010").attr("stroke-width", 3.5);
ann.append("path").attr("d", "M617,93 L597,73 L613,64 Z").attr("fill", "#f01010");

ann.append("text").attr("x", 8).attr("y", 628)
  .attr("font-family", "Lato, 'Open Sans', sans-serif").attr("font-size", 22)
  .attr("fill", "#111").text("of 5");
</script>
</body>
</html>
